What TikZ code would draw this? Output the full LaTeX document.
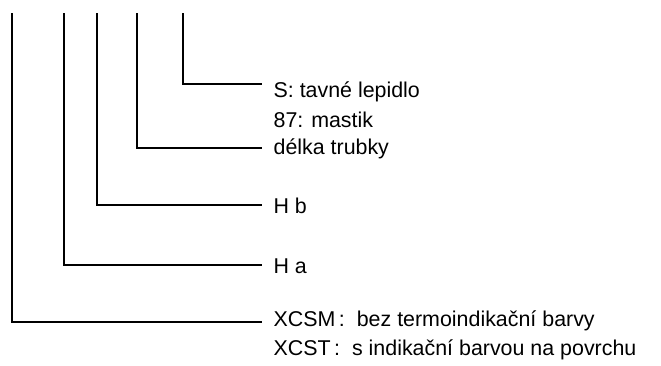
\documentclass[tikz,border=0pt]{standalone}
\usepackage{fontspec}
\setmainfont{Liberation Sans}
\usetikzlibrary{positioning}
\tikzset{node distance=29pt, auto,
  lbl/.style={anchor=west, inner sep=0pt, font=\fontsize{21.4}{24}\selectfont}}

\begin{document}
\begin{tikzpicture}[x=1pt,y=-1pt,line width=1.2pt]
\useasboundingbox (0,0) rectangle (661,365);
% top ends of the leads
\coordinate (tA) at (12,13);
\coordinate (tB) at (64,13);
\coordinate (tC) at (97,13);
\coordinate (tD) at (137,13);
\coordinate (tE) at (183,13);
% free ends on the right
\coordinate (eA) at (262,322);
\coordinate (eB) at (262,265);
\coordinate (eC) at (262,205);
\coordinate (eD) at (262,148);
\coordinate (eE) at (262,84);
% labels
\node[lbl] (sl)    at (273,92)  {S: tavné lepidlo};
\node[lbl] (mast)  at (273,120) {87: mastik};
\node[lbl] (delka) at (273,149) {délka trubky};
\node[lbl] (hb)    at (273,206) {H b};
\node[lbl] (ha)    at (273,266) {H a};
\node[lbl] (xcsm)  at (273,321) {XCSM\,:\ \ bez termoindikační barvy};
\node[lbl] (xcst)  at (273,350) {XCST\,:\ \ s indikační barvou na povrchu};
\draw (tA) |- (eA);
\draw (tB) |- (eB);
\draw (tC) |- (eC);
\draw (tD) |- (eD);
\draw (tE) |- (eE);
\end{tikzpicture}
\end{document}
